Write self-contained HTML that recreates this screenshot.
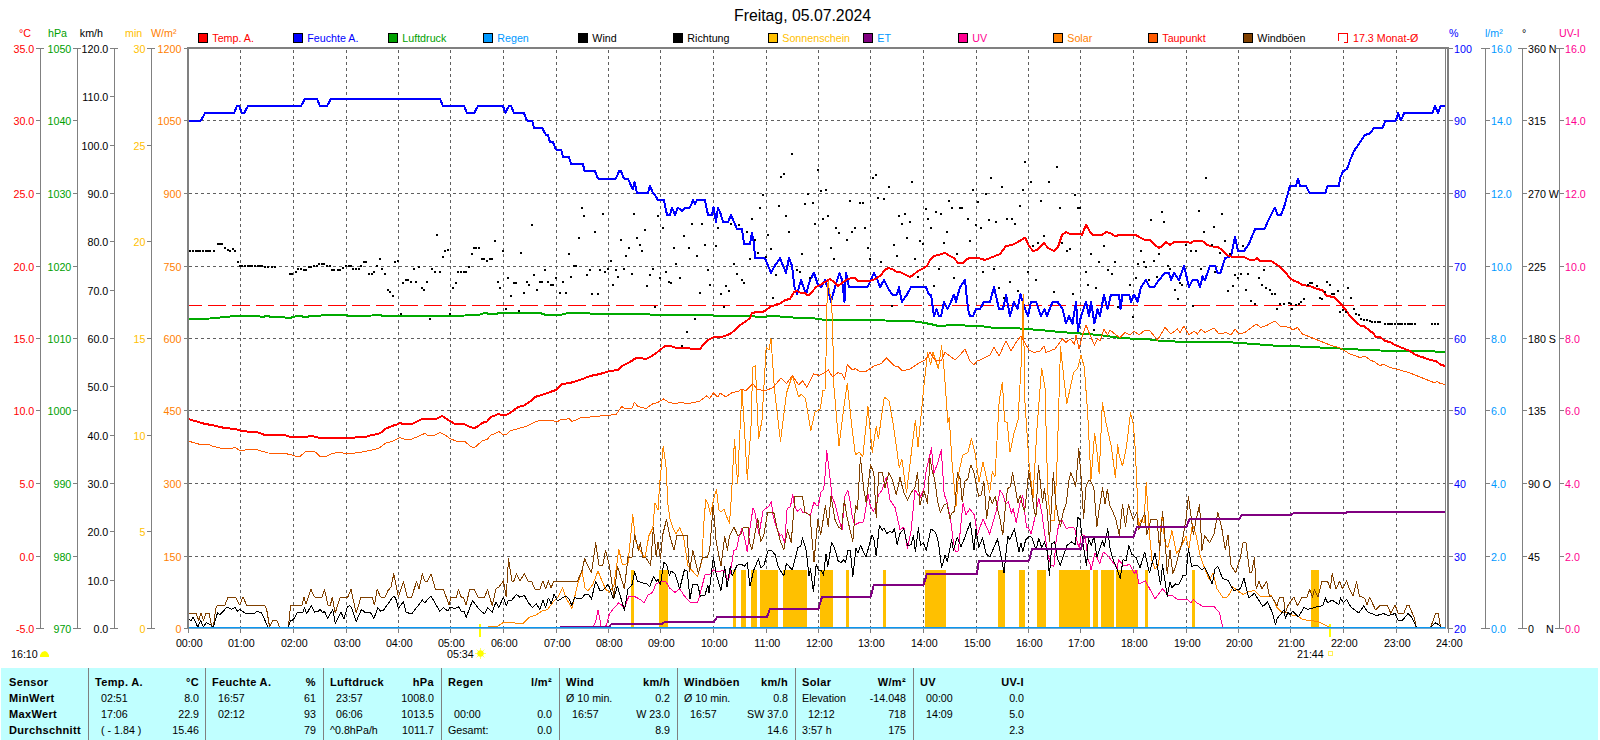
<!DOCTYPE html>
<html><head><meta charset="utf-8"><title>Freitag, 05.07.2024</title>
<style>
html,body{margin:0;padding:0;background:#fff;}
body{width:1600px;height:740px;overflow:hidden;position:relative;}
svg{position:absolute;left:0;top:0;display:block;}
text{font-family:"Liberation Sans",sans-serif;font-size:10.7px;}
.b{font-weight:bold;font-size:11px;letter-spacing:0.35px;}
.t{font-size:15.8px;}
.e{text-anchor:end;}
.m{text-anchor:middle;}
</style></head><body>
<svg width="1600" height="740" viewBox="0 0 1600 740" shape-rendering="crispEdges">
<rect x="0" y="0" width="1600" height="740" fill="#ffffff"/>
<g stroke="#606060" stroke-width="1" stroke-dasharray="3,3">
<line x1="240.5" y1="50" x2="240.5" y2="627"/>
<line x1="293.5" y1="50" x2="293.5" y2="627"/>
<line x1="346.5" y1="50" x2="346.5" y2="627"/>
<line x1="398.5" y1="50" x2="398.5" y2="627"/>
<line x1="450.5" y1="50" x2="450.5" y2="627"/>
<line x1="503.5" y1="50" x2="503.5" y2="627"/>
<line x1="556.5" y1="50" x2="556.5" y2="627"/>
<line x1="608.5" y1="50" x2="608.5" y2="627"/>
<line x1="660.5" y1="50" x2="660.5" y2="627"/>
<line x1="713.5" y1="50" x2="713.5" y2="627"/>
<line x1="766.5" y1="50" x2="766.5" y2="627"/>
<line x1="818.5" y1="50" x2="818.5" y2="627"/>
<line x1="870.5" y1="50" x2="870.5" y2="627"/>
<line x1="923.5" y1="50" x2="923.5" y2="627"/>
<line x1="976.5" y1="50" x2="976.5" y2="627"/>
<line x1="1028.5" y1="50" x2="1028.5" y2="627"/>
<line x1="1080.5" y1="50" x2="1080.5" y2="627"/>
<line x1="1133.5" y1="50" x2="1133.5" y2="627"/>
<line x1="1186.5" y1="50" x2="1186.5" y2="627"/>
<line x1="1238.5" y1="50" x2="1238.5" y2="627"/>
<line x1="1290.5" y1="50" x2="1290.5" y2="627"/>
<line x1="1343.5" y1="50" x2="1343.5" y2="627"/>
<line x1="1396.5" y1="50" x2="1396.5" y2="627"/>
<line x1="189" y1="120.5" x2="1445" y2="120.5"/>
<line x1="189" y1="193.5" x2="1445" y2="193.5"/>
<line x1="189" y1="266.5" x2="1445" y2="266.5"/>
<line x1="189" y1="338.5" x2="1445" y2="338.5"/>
<line x1="189" y1="410.5" x2="1445" y2="410.5"/>
<line x1="189" y1="483.5" x2="1445" y2="483.5"/>
<line x1="189" y1="556.5" x2="1445" y2="556.5"/>
</g>
<rect x="631.0" y="570" width="3.0" height="58" fill="#ffc000"/>
<rect x="659.0" y="570" width="8.5" height="58" fill="#ffc000"/>
<rect x="733.0" y="570" width="3.0" height="58" fill="#ffc000"/>
<rect x="741.0" y="570" width="4.5" height="58" fill="#ffc000"/>
<rect x="751.0" y="570" width="6.0" height="58" fill="#ffc000"/>
<rect x="759.5" y="570" width="18.5" height="58" fill="#ffc000"/>
<rect x="783.0" y="570" width="24.0" height="58" fill="#ffc000"/>
<rect x="820.0" y="570" width="13.0" height="58" fill="#ffc000"/>
<rect x="846.0" y="570" width="3.0" height="58" fill="#ffc000"/>
<rect x="883.0" y="570" width="3.0" height="58" fill="#ffc000"/>
<rect x="925.0" y="570" width="21.0" height="58" fill="#ffc000"/>
<rect x="998.0" y="570" width="6.5" height="58" fill="#ffc000"/>
<rect x="1019.0" y="570" width="6.0" height="58" fill="#ffc000"/>
<rect x="1037.0" y="570" width="9.0" height="58" fill="#ffc000"/>
<rect x="1059.0" y="570" width="31.0" height="58" fill="#ffc000"/>
<rect x="1093.0" y="570" width="5.0" height="58" fill="#ffc000"/>
<rect x="1101.0" y="570" width="13.0" height="58" fill="#ffc000"/>
<rect x="1116.0" y="570" width="22.0" height="58" fill="#ffc000"/>
<rect x="1145.0" y="570" width="3.0" height="58" fill="#ffc000"/>
<rect x="1192.0" y="570" width="3.0" height="58" fill="#ffc000"/>
<rect x="1311.0" y="570" width="8.0" height="58" fill="#ffc000"/>
<line x1="189" y1="305.5" x2="1445" y2="305.5" stroke="#ff0000" stroke-width="1" stroke-dasharray="18,6" stroke-dashoffset="5"/>
<polyline points="188.0,319.0 210.0,318.5 215.0,318.0 235.0,316.0 258.0,316.0 262.0,317.0 267.0,316.0 272.0,317.0 285.0,317.5 290.0,318.0 295.0,316.5 300.0,316.0 305.0,317.0 312.0,316.0 330.0,315.0 345.0,315.0 350.0,316.0 372.0,315.5 378.0,314.5 383.0,316.0 400.0,316.0 440.0,316.0 465.0,315.5 470.0,314.5 480.0,314.5 485.0,313.0 490.0,314.0 495.0,314.0 500.0,313.0 540.0,313.0 546.0,315.0 560.0,315.0 566.0,313.5 580.0,313.0 600.0,314.0 607.0,314.5 630.0,314.0 640.0,314.0 660.0,315.0 690.0,315.0 700.0,314.5 720.0,316.0 750.0,316.0 760.0,317.0 775.0,316.0 785.0,317.0 800.0,318.0 815.0,318.5 825.0,320.0 860.0,320.5 870.0,320.0 885.0,320.5 905.0,321.0 915.0,321.5 925.0,323.0 935.0,325.0 938.0,326.0 955.0,325.0 960.0,324.5 968.0,326.0 980.0,326.0 995.0,328.0 1020.0,328.5 1040.0,330.0 1060.0,332.0 1080.0,333.5 1100.0,335.0 1120.0,338.0 1140.0,339.0 1150.0,339.5 1162.0,341.0 1175.0,341.5 1180.0,342.5 1190.0,341.5 1220.0,341.5 1240.0,343.0 1260.0,344.5 1280.0,346.0 1300.0,346.5 1320.0,347.5 1340.0,348.5 1350.0,349.0 1365.0,350.0 1380.0,350.5 1400.0,351.0 1420.0,351.0 1435.0,351.5 1446.0,352.0" fill="none" stroke="#00aa00" stroke-width="2" stroke-linejoin="round" />
<polyline points="188.0,120.5 201.0,120.5 205.0,113.2 234.0,113.2 237.0,106.0 239.0,106.0 242.0,113.2 244.0,113.2 248.0,106.0 301.0,106.0 305.0,98.8 317.0,98.8 320.0,106.0 327.0,106.0 331.0,98.8 440.0,98.8 443.0,106.0 464.0,106.0 467.0,113.2 474.0,113.2 478.0,106.0 503.0,106.0 505.5,113.2 507.0,109.6 509.0,106.0 511.0,106.0 514.0,113.2 524.0,113.2 527.0,120.5 532.0,120.5 534.0,127.8 542.0,127.8 546.0,135.0 548.0,135.0 550.0,142.2 553.0,142.2 556.0,149.5 561.0,149.5 563.0,156.8 569.0,156.8 571.0,164.0 583.0,164.0 584.5,171.2 595.0,171.2 598.0,178.5 616.0,178.5 619.0,171.2 621.0,171.2 624.0,178.5 628.0,178.5 631.0,185.8 633.0,189.4 634.5,182.1 637.0,193.0 648.0,193.0 650.0,185.8 653.0,193.0 656.0,196.6 658.0,200.2 664.0,200.2 667.0,214.8 670.0,214.8 672.0,207.5 675.0,214.8 678.0,207.5 682.0,211.1 685.0,207.5 690.0,207.5 693.0,200.2 695.0,203.9 697.0,200.2 705.0,200.2 708.0,214.8 712.0,214.8 713.5,207.5 716.0,222.0 718.0,207.5 721.0,214.8 723.0,222.0 728.0,222.0 731.0,214.8 734.0,222.0 737.0,229.2 742.0,229.2 744.0,243.8 750.0,243.8 752.0,232.9 754.0,243.8 755.0,258.2 765.0,258.2 771.0,272.8 775.0,265.5 780.0,258.2 783.0,265.5 786.0,272.8 789.0,258.2 792.0,265.5 794.5,287.2 797.0,294.5 801.0,280.0 806.0,294.5 810.0,280.0 814.0,272.8 817.5,283.6 821.0,287.2 825.0,280.0 827.5,287.2 831.0,301.8 835.0,287.2 839.5,272.8 842.0,280.0 844.5,301.8 846.0,272.8 849.0,287.2 867.5,287.2 874.0,272.8 877.5,280.0 880.0,287.2 884.0,280.0 887.5,287.2 892.0,294.5 897.0,294.5 899.0,287.2 902.0,301.8 907.0,294.5 911.0,287.2 926.0,287.2 929.0,294.5 931.0,294.5 934.0,316.2 936.5,309.0 939.0,316.2 941.0,316.2 944.0,301.8 947.5,309.0 951.0,301.8 954.0,294.5 956.0,301.8 960.0,287.2 965.0,280.0 968.0,309.0 970.0,316.2 973.0,316.2 976.0,309.0 980.0,309.0 984.0,301.8 990.0,301.8 994.0,287.2 999.0,309.0 1003.0,309.0 1006.0,294.5 1010.0,316.2 1014.0,301.8 1017.5,309.0 1020.5,294.5 1025.0,309.0 1028.0,316.2 1031.0,301.8 1036.0,301.8 1041.0,316.2 1044.5,309.0 1047.0,316.2 1052.5,301.8 1057.5,301.8 1062.5,309.0 1066.0,323.5 1069.0,316.2 1072.5,323.5 1076.0,301.8 1078.0,330.8 1081.0,316.2 1086.0,301.8 1089.0,316.2 1091.0,301.8 1094.5,323.5 1097.5,309.0 1100.0,316.2 1104.0,294.5 1107.5,309.0 1111.0,294.5 1115.0,294.5 1119.0,294.5 1120.5,309.0 1122.5,294.5 1129.0,294.5 1131.0,301.8 1134.0,294.5 1137.5,301.8 1141.0,287.2 1146.0,280.0 1149.5,287.2 1154.0,287.2 1159.0,280.0 1165.0,272.8 1169.0,272.8 1171.0,280.0 1174.0,272.8 1179.0,280.0 1184.0,265.5 1189.0,287.2 1192.5,280.0 1197.5,280.0 1200.0,287.2 1202.5,276.4 1205.0,280.0 1210.0,265.5 1215.0,265.5 1217.5,272.8 1220.5,272.8 1225.0,258.2 1231.0,256.1 1235.0,236.5 1238.0,251.0 1244.0,251.0 1249.0,243.8 1255.0,229.2 1264.5,229.2 1267.5,222.0 1271.0,214.8 1275.0,207.5 1277.5,214.8 1281.0,214.8 1284.0,207.5 1286.0,200.2 1290.0,185.8 1296.0,185.8 1298.0,178.5 1300.0,185.8 1306.0,185.8 1309.5,193.0 1325.5,193.0 1327.5,185.8 1339.0,185.8 1340.0,178.5 1343.0,171.2 1347.0,169.1 1350.0,160.4 1354.0,151.0 1360.0,142.2 1365.0,135.0 1370.0,133.5 1374.0,127.8 1382.5,127.8 1385.5,120.5 1396.0,120.5 1398.0,113.2 1401.0,120.5 1404.0,113.2 1432.5,113.2 1435.0,106.0 1438.0,113.2 1440.5,106.0 1446.0,106.0" fill="none" stroke="#0000ff" stroke-width="2" stroke-linejoin="round" />
<polyline points="488.0,627.0 497.0,626.5 503.4,622.5 514.0,622.5 517.5,624.0 523.0,623.5 529.7,617.0 536.0,615.0 542.0,611.0 547.5,609.5 554.0,601.0 558.0,597.0 562.5,587.8 566.0,598.0 572.0,608.4 577.5,585.0 582.0,571.0 585.0,588.0 588.0,590.6 592.5,585.0 598.0,571.0 602.0,581.0 605.6,589.0 609.4,592.5 614.0,585.0 618.8,549.4 622.5,565.0 628.0,563.4 632.8,514.7 635.6,541.0 639.4,549.4 645.0,558.0 648.8,536.0 652.8,528.0 655.0,503.0 658.0,510.0 659.5,486.0 663.2,446.5 666.2,468.0 667.8,504.0 670.0,519.0 673.0,528.0 676.0,534.0 679.7,527.8 683.4,536.0 688.0,566.0 697.5,576.6 702.0,560.6 703.5,528.0 705.7,499.5 708.2,504.0 710.5,514.5 713.5,499.5 716.5,489.3 718.8,510.0 721.0,512.0 724.0,509.2 727.0,517.5 729.5,523.5 731.5,495.0 733.0,465.0 734.6,439.0 736.0,463.5 737.8,483.5 739.0,450.0 742.0,389.7 744.5,430.0 747.3,479.5 751.0,426.8 752.7,367.3 755.4,366.0 758.6,439.0 762.0,420.0 766.2,347.0 769.0,349.7 771.0,338.4 774.3,387.6 780.5,441.6 786.5,393.0 792.4,375.4 796.0,387.6 798.6,397.0 801.4,394.3 805.4,398.4 810.8,430.8 814.9,412.0 820.3,409.0 823.0,390.0 825.0,390.0 826.5,340.0 827.2,290.0 828.2,281.0 829.5,292.0 831.5,300.0 832.7,330.0 833.8,385.0 839.0,445.7 843.2,412.0 847.3,383.5 851.4,422.7 855.4,455.0 859.0,452.0 862.8,456.8 868.0,406.5 872.2,452.4 876.2,426.8 878.4,439.0 884.3,397.0 889.2,401.0 893.8,428.0 899.2,467.3 901.9,459.2 906.5,493.0 911.4,452.4 915.4,420.0 918.0,447.0 923.5,390.3 927.6,352.4 930.8,364.6 933.0,352.4 938.4,368.6 941.6,345.7 944.3,371.4 947.8,422.7 949.2,417.3 951.9,460.5 956.0,506.5 958.6,474.0 962.7,455.0 968.0,452.4 971.4,439.0 974.9,452.4 979.0,482.0 983.0,462.0 989.7,493.0 992.4,471.4 995.0,476.8 999.2,401.0 1002.4,382.0 1004.6,421.4 1007.3,422.7 1010.0,452.4 1014.0,433.5 1018.0,420.0 1021.4,360.0 1023.2,294.0 1024.9,401.0 1029.0,463.0 1033.0,498.0 1037.0,428.0 1041.6,368.0 1045.0,387.6 1047.8,493.0 1050.5,520.0 1054.6,520.0 1057.3,455.0 1060.5,347.0 1064.0,379.5 1066.8,403.8 1073.5,372.7 1077.6,368.6 1081.0,355.0 1084.3,367.3 1087.6,412.0 1091.0,479.5 1094.6,433.5 1096.5,447.0 1099.2,474.0 1102.4,402.4 1106.0,422.7 1111.4,447.0 1115.4,478.0 1117.6,444.8 1119.3,456.0 1122.5,466.0 1126.4,447.5 1130.5,413.0 1133.4,424.6 1135.0,445.7 1136.9,484.4 1138.4,530.0 1139.5,523.0 1141.3,519.5 1144.0,523.0 1146.2,482.6 1148.3,516.0 1150.0,540.0 1152.0,560.6 1155.0,569.0 1158.8,564.4 1160.5,530.0 1162.5,512.5 1163.5,530.0 1165.3,544.7 1168.0,547.5 1172.0,530.6 1176.6,554.0 1182.2,544.7 1186.0,536.0 1188.8,549.4 1192.5,524.0 1196.2,536.0 1200.0,555.0 1203.8,566.0 1209.4,580.0 1213.0,573.0 1217.0,588.8 1222.5,597.0 1226.2,598.0 1230.0,593.4 1232.8,586.9 1237.5,590.6 1243.0,594.4 1248.8,591.6 1254.4,590.6 1260.0,596.0 1267.5,597.0 1271.2,595.3 1277.0,607.5 1282.5,613.0 1286.2,612.0 1292.0,615.0 1297.5,616.0 1303.0,619.7 1310.6,620.6 1318.0,621.6 1323.8,624.4 1329.4,627.0" fill="none" stroke="#ff8800" stroke-width="1" stroke-linejoin="round" />
<polyline points="188.0,441.0 195.0,443.0 202.0,445.0 208.0,444.0 212.0,446.0 220.0,448.0 230.0,449.0 235.0,447.5 241.0,451.0 247.0,449.5 258.0,450.0 268.0,453.0 285.0,453.5 290.0,454.5 295.0,456.0 300.0,456.5 305.0,452.0 312.0,451.0 316.0,452.5 320.0,456.5 327.0,456.0 332.0,453.5 340.0,452.0 345.0,453.5 355.0,453.0 365.0,451.5 372.0,450.0 378.0,448.5 382.0,446.0 386.0,443.0 392.0,441.5 397.0,439.0 400.0,437.5 404.0,439.0 412.0,439.0 418.0,436.5 422.0,434.5 425.0,433.5 428.0,435.5 435.0,435.0 440.0,432.5 445.0,435.0 450.0,438.5 456.0,441.0 465.0,441.5 470.0,446.0 474.0,448.0 477.0,445.5 482.0,441.0 487.0,439.5 491.0,435.0 495.0,433.5 499.0,431.5 502.0,434.0 506.0,435.0 510.0,431.0 515.0,429.5 520.0,428.0 526.0,426.5 530.0,424.5 535.0,422.0 540.0,420.5 545.0,421.0 553.0,420.5 557.0,422.0 560.0,420.0 565.0,419.5 569.0,418.5 572.0,421.5 577.0,419.5 580.0,418.0 590.0,417.0 600.0,416.0 616.0,414.6 621.6,406.5 625.7,409.0 632.4,408.0 634.3,402.4 638.0,406.5 646.0,408.6 652.7,403.8 658.0,402.4 663.5,399.0 669.0,402.4 675.7,403.8 681.0,402.0 686.5,403.8 694.6,402.4 700.0,401.0 706.8,395.7 709.5,398.4 713.5,393.0 717.6,397.0 720.3,393.0 725.7,397.0 732.4,392.4 737.8,391.6 742.0,389.0 746.0,390.8 752.7,383.5 756.8,389.0 765.0,390.8 773.0,387.6 781.0,378.0 786.5,383.5 792.4,375.4 798.6,385.0 802.7,380.8 806.8,387.6 813.5,374.0 819.0,375.4 824.3,372.7 828.4,370.0 832.4,376.8 837.8,372.7 842.0,374.0 844.6,379.5 847.3,364.6 852.7,370.0 855.4,368.6 860.8,372.0 866.0,371.4 870.0,368.6 874.3,366.0 881.0,363.8 886.5,358.0 890.5,362.0 894.6,366.0 897.5,366.0 902.5,371.0 910.0,369.0 917.5,364.0 925.0,360.0 930.0,352.5 935.0,360.0 941.0,361.0 945.0,352.5 950.0,356.0 955.0,360.0 960.0,355.0 965.0,349.0 970.0,361.0 974.0,365.0 977.5,360.0 980.0,360.0 990.0,355.0 994.0,347.5 999.0,356.0 1006.0,341.0 1011.0,351.0 1016.0,342.5 1021.0,336.0 1029.0,350.0 1034.0,352.5 1040.0,351.0 1044.0,346.0 1046.0,352.5 1055.0,349.0 1062.5,339.0 1066.0,342.5 1070.0,339.0 1074.5,344.0 1076.0,335.0 1079.0,349.0 1082.5,335.0 1086.0,325.0 1090.0,335.0 1094.5,345.0 1097.5,339.0 1100.0,341.0 1104.0,329.0 1107.5,335.0 1110.0,330.0 1116.0,335.0 1120.0,337.5 1125.0,332.5 1130.0,335.0 1134.0,331.0 1139.0,335.0 1145.0,330.0 1150.0,331.0 1157.5,340.0 1165.0,327.5 1171.0,334.0 1177.5,329.0 1180.0,332.5 1184.0,326.0 1189.0,335.0 1194.0,331.0 1197.5,334.0 1201.0,329.0 1205.0,332.5 1214.0,328.0 1219.0,334.0 1226.0,332.5 1231.0,335.0 1235.0,329.0 1239.0,334.0 1245.0,332.5 1256.0,324.0 1261.0,327.5 1267.5,325.0 1275.0,321.0 1280.0,326.0 1290.0,327.5 1292.5,330.0 1297.5,327.5 1302.5,334.0 1310.0,337.0 1320.0,341.0 1330.0,345.0 1340.0,348.0 1345.0,351.0 1350.0,354.0 1360.0,357.5 1365.0,356.0 1370.0,360.0 1375.0,362.0 1380.0,366.0 1383.0,364.0 1390.0,367.5 1400.0,370.0 1410.0,373.0 1420.0,377.0 1430.0,381.0 1435.0,383.0 1437.0,381.0 1440.0,383.5 1446.0,384.5" fill="none" stroke="#ff5a00" stroke-width="1" stroke-linejoin="round" />
<polyline points="593.4,627.0 596.0,620.0 598.0,610.0 600.0,620.0 601.0,626.6 604.0,627.0 606.5,625.3 609.4,614.0 613.0,609.0 618.8,602.8 624.4,607.5 629.0,596.0 633.8,596.0 641.0,600.0 644.0,602.8 647.8,595.3 652.5,592.5 656.0,584.0 660.0,582.0 665.6,581.0 669.4,587.8 675.0,592.5 679.7,588.8 684.4,596.0 690.0,602.0 697.5,602.8 700.0,594.4 705.0,574.7 709.7,574.7 713.4,570.0 718.0,572.0 723.8,570.0 728.4,581.0 730.8,570.0 733.6,551.0 736.5,549.1 739.3,535.9 742.1,528.3 745.0,539.7 747.2,552.0 749.7,530.2 752.9,508.5 754.8,511.3 756.3,520.8 759.1,534.0 762.9,511.3 765.8,508.5 768.6,506.6 771.4,501.9 773.3,517.0 776.2,526.5 780.0,535.9 781.8,534.0 784.7,543.5 787.1,508.5 790.4,506.6 792.8,494.3 794.1,503.8 797.0,511.3 800.0,509.4 800.5,508.5 802.8,512.2 806.5,512.2 810.2,516.0 814.0,501.8 816.2,505.5 818.5,505.5 820.8,492.0 823.3,489.8 824.5,483.0 826.8,450.8 829.3,471.0 832.0,496.5 835.0,504.0 838.0,516.0 842.0,530.0 844.8,496.5 847.8,490.5 850.0,501.0 852.2,516.0 854.5,525.0 859.0,522.8 863.5,522.0 865.8,508.5 868.0,494.2 870.2,505.5 873.2,511.5 876.2,506.2 878.5,495.0 882.0,490.0 886.2,477.5 890.0,500.0 895.0,507.5 900.0,529.7 903.8,527.0 907.5,548.4 911.2,530.0 915.0,490.0 920.0,497.5 923.8,490.0 926.2,470.0 930.0,454.6 931.5,448.0 933.8,473.5 937.6,463.1 941.3,449.9 944.2,494.3 947.0,501.9 950.8,520.8 953.6,543.5 955.5,552.0 958.4,551.0 961.2,520.8 963.1,502.8 965.9,515.1 969.7,508.5 974.4,515.1 977.3,535.0 983.0,518.9 989.6,534.0 996.2,511.3 1000.0,490.5 1002.8,494.3 1005.7,503.8 1008.5,501.9 1011.3,513.2 1013.2,508.5 1016.1,522.7 1019.8,503.8 1022.7,495.2 1024.6,511.3 1026.5,527.4 1028.3,527.4 1031.2,534.0 1035.9,513.2 1038.7,498.1 1041.6,511.3 1044.4,532.1 1048.2,555.8 1051.0,565.2 1053.9,566.2 1055.8,543.5 1058.6,524.6 1061.4,518.9 1063.3,522.7 1066.2,528.3 1071.8,527.4 1074.7,528.3 1077.5,543.5 1079.4,547.3 1081.3,534.0 1085.1,535.9 1087.9,558.6 1090.0,564.3 1091.0,570.0 1095.0,553.0 1099.7,563.4 1103.4,552.0 1108.0,556.0 1117.5,568.0 1118.4,559.7 1124.0,566.0 1129.7,564.4 1134.4,573.8 1136.2,570.0 1139.0,584.0 1145.6,581.0 1155.0,599.0 1162.5,588.8 1168.0,595.3 1172.0,595.3 1176.6,599.0 1187.8,599.6 1190.6,602.8 1193.4,599.6 1197.0,602.8 1202.8,606.5 1214.0,606.5 1219.7,613.0 1221.6,622.5 1223.0,627.0" fill="none" stroke="#ff0090" stroke-width="1" stroke-linejoin="round" />
<polyline points="188.0,613.0 196.0,613.0 198.8,620.6 201.0,613.0 203.4,620.6 206.2,613.0 209.0,613.0 211.9,627.0 213.4,627.0 215.6,609.0 217.5,605.0 225.0,605.0 228.0,597.0 235.3,597.0 239.6,605.0 243.0,597.0 246.5,605.0 264.4,605.0 266.6,609.0 269.6,627.0 272.8,620.6 277.0,620.6 279.4,627.0 288.4,627.0 290.6,605.0 302.0,605.0 304.0,597.0 306.0,604.0 311.0,589.5 314.6,597.0 322.0,597.0 324.4,589.5 328.0,605.0 330.5,605.0 332.2,597.0 335.2,613.0 340.3,597.0 347.8,597.0 351.0,589.5 356.2,613.0 361.0,597.0 372.0,597.0 374.4,605.0 377.2,589.5 380.6,597.0 385.3,597.0 388.0,590.6 391.0,587.0 393.8,573.8 398.4,597.0 403.5,581.6 407.2,597.0 411.6,597.0 416.6,581.6 419.0,588.8 422.4,573.8 424.7,581.0 427.5,581.0 431.0,573.8 435.4,589.0 443.4,589.0 449.0,605.0 451.0,597.0 456.5,597.0 458.4,589.5 461.2,597.0 463.5,597.0 466.0,605.0 469.7,589.5 474.4,589.5 478.0,597.0 480.0,597.0 484.7,597.0 487.5,589.5 492.2,605.6 496.0,588.8 498.8,587.0 503.4,581.0 506.2,597.0 508.5,558.8 511.9,581.0 513.8,581.0 516.5,573.8 519.8,581.0 524.4,573.8 527.8,581.0 531.5,581.0 534.8,589.0 540.0,589.0 542.8,581.0 545.6,588.8 548.4,581.0 551.0,587.8 554.0,581.0 577.5,581.0 582.2,570.0 584.6,558.8 591.5,572.8 595.7,542.8 599.0,565.3 602.8,565.3 605.6,550.3 609.4,566.0 614.0,598.0 617.4,566.0 624.4,588.8 628.0,557.0 631.9,557.8 634.7,534.4 638.4,550.3 640.3,542.8 643.0,557.8 646.0,557.8 650.6,565.3 653.4,527.0 656.2,557.0 658.0,542.0 660.4,558.8 662.8,534.4 666.5,519.4 669.4,534.4 674.0,550.3 677.0,535.3 687.2,535.3 689.6,572.0 692.8,550.3 698.4,573.8 702.2,557.8 707.0,557.8 709.7,550.3 713.2,505.0 716.2,542.0 721.0,566.0 724.7,536.2 727.5,550.3 729.4,536.2 733.8,527.0 737.8,535.3 741.0,534.4 743.4,527.0 748.0,527.0 749.5,542.8 752.0,549.4 757.8,518.5 760.7,542.0 764.0,534.4 767.5,512.5 773.8,512.5 777.5,530.0 780.0,540.0 783.8,550.0 787.5,530.0 791.2,542.5 795.0,496.2 802.5,496.2 805.0,512.5 810.0,515.0 814.0,562.0 817.8,519.0 820.7,535.0 825.4,505.6 828.2,526.5 831.0,496.0 834.8,519.0 838.6,527.4 841.5,529.0 844.3,500.0 847.0,517.0 852.8,541.6 855.6,505.6 857.5,509.4 860.4,457.4 863.8,490.0 866.2,502.5 870.5,465.0 873.8,472.5 876.2,517.5 878.8,472.5 882.5,472.5 885.0,487.5 888.8,472.5 892.5,480.0 896.2,495.0 900.0,477.5 903.8,492.5 907.5,500.0 911.2,492.5 915.0,487.5 917.5,472.5 920.0,505.0 923.8,490.0 927.5,503.8 930.0,458.4 931.9,469.7 934.7,479.2 937.6,501.9 940.4,512.3 944.2,504.7 947.0,503.8 949.9,518.9 951.7,513.2 954.6,511.3 957.4,472.6 960.3,479.2 962.2,501.9 965.0,481.1 967.8,479.2 970.7,465.0 973.5,470.7 976.3,484.8 978.8,496.2 981.1,495.2 983.9,481.1 986.7,518.9 989.6,496.2 992.4,503.8 995.2,496.2 998.1,511.3 1000.0,518.9 1002.8,535.0 1005.7,503.8 1007.5,488.6 1010.4,486.7 1012.6,472.6 1015.1,486.7 1017.9,502.8 1020.4,495.2 1022.7,505.7 1024.6,511.3 1026.5,494.3 1028.7,470.7 1031.2,488.6 1034.0,509.4 1035.9,517.0 1038.4,465.0 1040.6,484.8 1042.5,502.8 1044.4,488.6 1047.3,511.3 1049.5,541.6 1052.0,496.2 1053.3,472.6 1055.8,503.8 1058.6,518.9 1060.5,526.5 1063.3,511.3 1066.2,503.8 1069.0,480.1 1070.9,472.6 1073.7,480.1 1075.6,486.7 1078.8,448.9 1081.3,479.2 1083.6,518.9 1086.0,486.7 1088.9,480.1 1090.0,480.1 1093.8,487.6 1096.9,526.9 1099.0,510.0 1102.6,488.0 1105.0,504.0 1107.4,489.0 1109.7,505.5 1113.2,512.5 1115.8,519.5 1119.4,535.3 1122.5,504.6 1125.5,526.5 1128.5,504.6 1130.8,512.5 1133.4,519.5 1136.9,512.5 1138.5,530.0 1142.2,519.5 1144.8,512.5 1146.6,535.0 1151.0,519.5 1157.0,519.5 1159.7,550.3 1162.5,512.0 1165.3,541.9 1167.2,573.8 1170.0,550.3 1172.8,573.8 1175.6,566.2 1177.5,558.8 1182.2,541.9 1186.0,519.5 1188.4,496.3 1190.5,512.5 1193.4,534.4 1196.2,519.4 1199.6,504.6 1201.9,550.3 1204.7,535.3 1209.4,542.8 1214.0,534.4 1217.8,512.5 1221.6,527.0 1225.3,549.4 1228.0,535.3 1231.0,565.3 1235.6,572.8 1240.3,557.8 1243.0,542.8 1246.0,542.8 1249.7,572.8 1251.6,572.8 1254.4,557.8 1256.2,588.8 1259.0,581.2 1261.9,588.8 1266.6,581.2 1269.4,596.2 1271.6,596.2 1277.0,605.6 1279.7,597.0 1283.4,597.0 1285.3,613.0 1288.0,605.6 1293.8,597.0 1297.5,605.6 1302.2,597.0 1307.0,597.0 1309.7,589.7 1312.5,597.0 1314.4,589.7 1318.0,597.0 1322.0,581.2 1327.5,581.2 1330.3,588.8 1332.2,573.8 1336.0,588.8 1339.7,581.2 1342.5,588.8 1346.5,581.0 1349.5,589.0 1353.0,596.0 1356.6,581.7 1359.4,596.0 1364.8,598.3 1367.0,604.8 1369.6,597.2 1375.6,610.0 1380.0,605.5 1387.5,605.5 1390.8,613.5 1395.0,604.8 1398.3,613.5 1403.7,613.5 1407.0,605.5 1409.1,605.5 1412.4,613.5 1414.5,617.8 1416.0,627.0 1430.8,627.0 1435.7,613.0 1438.3,613.0 1440.5,627.0" fill="none" stroke="#804000" stroke-width="1" stroke-linejoin="round" />
<polyline points="188.4,618.8 191.0,620.6 193.0,617.2 197.8,627.0 200.6,620.6 203.4,627.0 206.2,622.5 210.0,624.4 213.4,627.0 217.5,612.8 219.8,615.0 227.0,607.0 231.6,609.4 235.3,607.5 237.2,611.2 239.6,609.4 246.6,614.0 249.4,613.0 255.0,613.0 257.2,611.2 261.6,613.0 268.0,627.0 288.4,627.0 290.6,620.6 293.4,619.7 297.2,613.0 302.8,612.2 304.7,607.5 306.6,614.0 311.2,605.6 314.6,612.2 318.4,611.2 320.2,609.4 322.5,612.8 324.4,611.2 327.6,618.4 332.8,609.4 335.2,623.4 340.9,612.2 344.0,618.8 347.4,606.6 349.7,605.6 351.6,607.5 356.2,621.5 361.5,609.4 365.6,612.8 370.3,612.2 374.0,618.4 377.8,607.5 380.6,611.2 383.4,610.3 393.4,596.2 395.6,598.0 398.4,608.4 403.5,601.5 406.0,612.2 411.6,614.0 422.4,600.0 424.7,602.8 431.0,596.0 439.7,611.2 443.4,607.5 448.0,611.2 450.0,607.5 455.6,608.4 458.4,606.6 461.2,611.2 464.0,611.2 466.3,617.2 472.5,600.5 480.0,610.3 484.7,614.0 487.5,607.5 492.2,612.2 496.0,601.9 498.8,607.5 503.4,597.2 506.2,605.6 508.5,600.0 511.9,600.0 516.5,594.4 519.8,597.2 524.4,595.3 527.8,601.9 532.5,607.5 536.2,603.8 540.0,609.4 542.8,600.0 545.6,607.5 548.4,598.0 551.2,603.8 554.0,594.4 557.8,601.0 563.4,597.2 566.2,596.2 569.0,599.0 571.9,605.6 574.7,597.2 577.5,599.0 582.2,598.0 585.0,594.4 588.8,594.4 591.5,599.0 595.7,581.2 600.0,590.6 602.8,590.6 607.5,585.0 609.4,586.9 613.5,599.0 617.4,586.0 624.4,610.3 628.0,588.8 631.9,585.0 634.7,571.9 637.5,581.2 643.0,583.0 646.0,583.0 649.7,586.9 653.4,576.6 656.2,581.2 658.0,579.4 660.4,585.0 663.8,562.5 666.5,564.4 669.4,575.6 671.2,571.0 675.0,573.8 679.7,588.8 684.4,570.0 687.2,571.0 690.0,599.0 692.8,584.0 697.5,584.0 700.3,596.2 705.0,595.3 707.8,585.0 709.0,593.4 713.4,557.0 716.2,573.8 721.0,590.6 724.7,566.2 727.0,586.9 730.3,566.2 732.2,575.6 737.0,565.3 741.5,564.4 744.4,566.2 747.2,562.5 750.0,586.0 753.8,570.0 758.4,558.8 760.7,568.0 764.0,565.3 767.8,551.0 771.5,550.3 775.3,555.0 778.0,566.2 780.0,570.0 783.8,575.6 786.5,563.4 792.2,570.0 797.8,547.5 800.6,546.5 802.5,538.0 806.2,550.3 809.0,575.6 810.5,569.0 813.4,591.6 816.2,564.4 818.4,570.0 821.2,570.0 823.5,575.6 826.0,554.0 827.8,566.2 831.6,542.8 834.4,547.5 838.0,560.6 841.0,562.5 843.8,559.7 845.6,562.5 847.9,550.3 850.3,550.3 852.8,576.6 856.0,548.4 857.8,553.0 860.6,545.6 866.0,556.9 871.9,535.3 873.8,538.0 876.2,556.0 879.4,525.0 882.2,530.6 884.0,527.8 886.9,533.4 889.7,531.6 892.5,532.5 894.4,528.8 897.2,544.7 900.0,533.4 903.8,528.8 907.5,545.6 911.2,544.7 913.5,535.3 915.4,552.0 918.4,527.8 920.6,545.6 923.4,542.8 926.2,550.3 931.0,528.8 935.6,532.5 938.4,541.9 941.6,568.0 945.0,555.0 947.4,561.6 951.6,540.0 953.4,550.3 957.2,537.2 961.0,546.6 964.7,538.0 970.3,522.0 974.0,550.3 976.0,528.8 978.8,547.5 982.5,538.0 986.2,554.0 990.0,556.9 993.8,547.5 997.5,539.0 1001.2,556.9 1004.0,572.8 1007.8,536.2 1009.7,540.0 1014.4,528.8 1019.0,552.0 1021.0,542.8 1022.8,552.0 1025.6,540.0 1029.4,536.2 1032.2,538.0 1036.0,550.3 1038.8,538.0 1041.6,547.5 1044.4,541.9 1047.2,551.2 1049.4,575.6 1051.9,543.8 1054.7,541.9 1057.5,558.8 1060.3,565.3 1066.9,545.6 1071.6,541.9 1075.3,544.7 1078.0,517.5 1080.0,519.4 1082.8,542.8 1086.6,566.0 1088.4,538.0 1091.2,545.6 1094.0,536.2 1096.9,556.9 1102.5,541.0 1104.4,546.6 1107.8,528.8 1110.0,548.4 1112.8,558.8 1116.6,568.0 1120.3,578.4 1123.0,559.7 1126.0,560.6 1128.8,545.6 1131.6,554.0 1136.2,557.8 1140.0,568.0 1144.7,552.0 1149.4,572.8 1155.0,553.0 1160.6,585.0 1162.5,564.4 1167.2,596.2 1170.0,582.0 1171.9,587.8 1175.6,584.0 1178.4,585.0 1183.0,575.6 1186.0,575.6 1188.4,548.4 1191.6,566.2 1197.2,565.3 1201.9,570.0 1204.7,567.2 1208.4,574.7 1212.2,584.0 1215.0,569.0 1217.8,566.2 1222.5,578.4 1228.0,580.3 1233.8,590.6 1240.3,588.8 1244.0,578.4 1248.8,598.0 1254.4,593.4 1262.8,606.5 1267.5,601.9 1272.2,612.2 1275.4,625.0 1277.0,618.8 1284.4,609.4 1285.3,618.8 1288.0,612.2 1290.0,615.0 1292.8,611.2 1298.4,616.9 1304.0,607.5 1307.8,609.4 1314.4,607.5 1318.0,606.5 1322.8,605.6 1325.6,598.0 1327.5,602.8 1332.2,600.0 1338.8,604.7 1340.6,598.0 1343.4,602.8 1346.5,599.4 1350.8,607.0 1355.1,610.2 1358.8,612.8 1363.8,605.9 1367.0,611.3 1371.3,613.5 1376.7,615.6 1383.2,613.5 1388.6,615.6 1395.0,613.5 1398.3,621.0 1402.7,620.0 1408.0,613.5 1411.3,616.7 1414.5,623.2 1416.7,627.0 1430.8,627.0 1435.7,622.8 1439.4,625.4 1440.5,627.0" fill="none" stroke="#000000" stroke-width="1" stroke-linejoin="round" />
<polyline points="560.0,627.0 609.0,627.0 611.0,624.4 661.0,624.4 665.0,622.0 714.0,622.0 717.0,617.0 767.0,617.0 770.0,609.0 818.4,608.8 822.0,596.8 870.6,596.8 873.8,585.0 923.4,585.0 927.0,573.8 977.0,573.8 978.8,560.6 1029.0,560.6 1032.0,549.0 1081.0,549.0 1084.0,537.0 1133.4,537.0 1137.0,526.5 1186.5,526.5 1189.7,518.8 1239.4,518.8 1242.0,514.7 1291.0,514.7 1294.0,512.8 1346.0,512.8 1348.0,511.9 1446.0,511.9" fill="none" stroke="#800080" stroke-width="2" stroke-linejoin="round" />
<polyline points="188.0,419.0 195.0,421.0 200.0,422.5 205.0,424.0 212.0,425.0 220.0,427.0 225.0,428.0 235.0,429.0 240.0,430.5 250.0,432.0 258.0,432.5 265.0,435.0 285.0,435.0 290.0,437.0 303.0,437.5 308.0,436.5 312.0,436.0 318.0,437.5 355.0,437.5 360.0,437.0 367.0,436.5 372.0,435.0 378.0,434.0 382.0,432.0 386.0,428.5 392.0,426.0 397.0,424.5 400.0,423.0 403.0,424.0 412.0,424.0 417.0,421.5 421.0,419.5 428.0,419.0 437.0,418.5 442.0,416.0 446.0,418.5 450.0,421.0 455.0,424.0 465.0,424.5 470.0,427.0 474.0,428.0 477.0,427.0 482.0,423.0 487.0,421.5 491.0,417.0 495.0,415.5 498.0,414.0 502.0,415.0 506.0,415.0 510.0,413.0 514.0,410.0 518.0,407.0 524.0,405.5 528.0,403.0 532.0,400.0 535.0,397.0 540.0,395.5 545.0,394.0 550.0,392.0 556.0,390.0 562.0,384.0 570.0,383.0 580.0,380.0 590.0,376.0 600.0,374.0 610.0,371.0 618.0,370.0 622.0,366.0 630.0,362.0 636.0,358.0 642.0,358.0 645.0,359.5 650.0,357.0 655.0,354.0 660.0,350.0 665.0,346.0 670.0,346.0 675.0,347.5 685.0,347.5 692.0,349.0 700.0,349.0 703.0,345.0 708.0,340.0 713.0,337.5 722.0,337.0 730.0,334.0 735.0,330.0 740.0,325.0 745.0,322.0 750.0,318.0 752.0,313.0 757.0,312.0 762.0,312.0 765.0,311.0 770.0,307.0 775.0,305.0 780.0,303.5 785.0,300.0 790.0,299.0 794.0,292.0 797.0,291.0 800.0,292.5 805.0,293.0 808.0,295.5 812.0,292.0 816.0,287.0 820.0,285.0 825.0,282.0 830.0,279.0 834.0,282.0 838.0,286.0 842.0,283.0 846.0,280.0 850.0,278.5 855.0,278.0 858.0,281.0 870.0,281.0 875.0,279.0 880.0,276.0 885.0,270.0 888.0,268.0 892.0,269.0 896.0,271.5 900.0,272.0 905.0,274.5 910.0,277.0 913.0,275.0 918.0,271.0 923.0,268.5 927.0,266.0 930.0,260.0 934.0,256.0 940.0,254.5 945.0,253.0 950.0,256.0 954.0,258.0 958.0,263.0 963.0,263.0 967.0,259.0 972.0,257.5 976.0,258.0 980.0,258.5 985.0,260.0 1000.0,254.0 1006.0,246.0 1012.0,245.0 1018.0,242.0 1025.0,237.5 1029.0,246.0 1033.0,251.0 1037.0,250.0 1044.0,243.0 1048.0,248.0 1054.0,251.0 1058.0,247.0 1062.0,235.0 1066.0,232.0 1070.0,234.0 1078.0,233.5 1082.0,235.0 1086.0,224.5 1090.0,232.0 1093.0,235.0 1102.0,235.0 1106.0,232.0 1110.0,233.0 1115.0,236.0 1120.0,235.0 1135.0,234.5 1140.0,237.5 1145.0,240.0 1150.0,240.0 1155.0,245.0 1159.0,248.0 1162.0,246.0 1166.0,242.0 1170.0,245.0 1174.0,242.0 1188.0,241.5 1190.0,243.5 1194.0,241.0 1203.0,241.5 1207.0,245.0 1213.0,246.5 1218.0,247.0 1222.0,250.0 1227.0,255.0 1232.0,257.0 1245.0,257.5 1249.0,259.5 1255.0,259.5 1257.0,258.0 1260.0,261.0 1271.0,261.0 1276.0,264.0 1280.0,267.0 1285.0,272.0 1290.0,278.0 1294.0,281.0 1298.0,282.0 1302.0,285.0 1310.0,286.0 1317.0,289.0 1322.0,290.0 1327.0,296.0 1334.0,297.0 1340.0,303.0 1345.0,309.0 1350.0,316.0 1355.0,321.0 1360.0,325.5 1364.0,326.0 1370.0,331.0 1373.0,333.0 1376.0,337.0 1380.0,337.0 1385.0,341.0 1390.0,342.0 1395.0,345.0 1400.0,347.0 1405.0,349.0 1410.0,351.0 1415.0,354.5 1420.0,356.5 1425.0,358.0 1430.0,360.0 1436.0,361.0 1441.0,365.0 1446.0,366.0" fill="none" stroke="#ff0000" stroke-width="2" stroke-linejoin="round" />
<g fill="#000">
<rect x="189" y="250" width="2" height="2"/><rect x="192" y="250" width="2" height="2"/><rect x="195" y="250" width="2" height="2"/><rect x="197" y="250" width="2" height="2"/><rect x="199" y="250" width="2" height="2"/><rect x="202" y="250" width="2" height="2"/><rect x="205" y="250" width="2" height="2"/><rect x="207" y="250" width="2" height="2"/><rect x="209" y="250" width="2" height="2"/><rect x="213" y="250" width="2" height="2"/><rect x="217" y="243" width="2" height="2"/><rect x="219" y="243" width="2" height="2"/><rect x="221" y="243" width="2" height="2"/><rect x="224" y="247" width="2" height="2"/><rect x="227" y="249" width="2" height="2"/><rect x="229" y="250" width="2" height="2"/><rect x="232" y="248" width="2" height="2"/><rect x="234" y="250" width="2" height="2"/><rect x="237" y="261" width="2" height="2"/><rect x="239" y="265" width="2" height="2"/><rect x="241" y="265" width="2" height="2"/><rect x="244" y="265" width="2" height="2"/><rect x="247" y="265" width="2" height="2"/><rect x="249" y="265" width="2" height="2"/><rect x="251" y="265" width="2" height="2"/><rect x="254" y="265" width="2" height="2"/><rect x="257" y="265" width="2" height="2"/><rect x="259" y="265" width="2" height="2"/><rect x="261" y="265" width="2" height="2"/><rect x="264" y="266" width="2" height="2"/><rect x="267" y="266" width="2" height="2"/><rect x="271" y="266" width="2" height="2"/><rect x="274" y="266" width="2" height="2"/><rect x="289" y="273" width="2" height="2"/><rect x="291" y="273" width="2" height="2"/><rect x="295" y="271" width="2" height="2"/><rect x="297" y="268" width="2" height="2"/><rect x="300" y="268" width="2" height="2"/><rect x="303" y="269" width="2" height="2"/><rect x="305" y="269" width="2" height="2"/><rect x="308" y="266" width="2" height="2"/><rect x="310" y="266" width="2" height="2"/><rect x="313" y="265" width="2" height="2"/><rect x="316" y="265" width="2" height="2"/><rect x="318" y="263" width="2" height="2"/><rect x="321" y="263" width="2" height="2"/><rect x="323" y="263" width="2" height="2"/><rect x="326" y="265" width="2" height="2"/><rect x="329" y="265" width="2" height="2"/><rect x="331" y="269" width="2" height="2"/><rect x="333" y="269" width="2" height="2"/><rect x="337" y="269" width="2" height="2"/><rect x="339" y="269" width="2" height="2"/><rect x="342" y="267" width="2" height="2"/><rect x="345" y="265" width="2" height="2"/><rect x="348" y="265" width="2" height="2"/><rect x="350" y="265" width="2" height="2"/><rect x="352" y="268" width="2" height="2"/><rect x="355" y="268" width="2" height="2"/><rect x="358" y="268" width="2" height="2"/><rect x="360" y="265" width="2" height="2"/><rect x="363" y="261" width="2" height="2"/><rect x="365" y="261" width="2" height="2"/><rect x="368" y="273" width="2" height="2"/><rect x="371" y="273" width="2" height="2"/><rect x="373" y="271" width="2" height="2"/><rect x="376" y="265" width="2" height="2"/><rect x="379" y="258" width="2" height="2"/><rect x="381" y="268" width="2" height="2"/><rect x="384" y="273" width="2" height="2"/><rect x="387" y="289" width="2" height="2"/><rect x="389" y="291" width="2" height="2"/><rect x="392" y="295" width="2" height="2"/><rect x="394" y="261" width="2" height="2"/><rect x="397" y="260" width="2" height="2"/><rect x="400" y="313" width="2" height="2"/><rect x="402" y="282" width="2" height="2"/><rect x="405" y="279" width="2" height="2"/><rect x="407" y="279" width="2" height="2"/><rect x="410" y="281" width="2" height="2"/><rect x="413" y="268" width="2" height="2"/><rect x="415" y="281" width="2" height="2"/><rect x="418" y="266" width="2" height="2"/><rect x="421" y="287" width="2" height="2"/><rect x="423" y="289" width="2" height="2"/><rect x="426" y="281" width="2" height="2"/><rect x="429" y="318" width="2" height="2"/><rect x="431" y="268" width="2" height="2"/><rect x="434" y="271" width="2" height="2"/><rect x="436" y="234" width="2" height="2"/><rect x="439" y="271" width="2" height="2"/><rect x="442" y="256" width="2" height="2"/><rect x="444" y="250" width="2" height="2"/><rect x="447" y="249" width="2" height="2"/><rect x="449" y="313" width="2" height="2"/><rect x="452" y="287" width="2" height="2"/><rect x="455" y="282" width="2" height="2"/><rect x="457" y="271" width="2" height="2"/><rect x="460" y="271" width="2" height="2"/><rect x="463" y="271" width="2" height="2"/><rect x="465" y="271" width="2" height="2"/><rect x="468" y="266" width="2" height="2"/><rect x="471" y="253" width="2" height="2"/><rect x="473" y="247" width="2" height="2"/><rect x="475" y="247" width="2" height="2"/><rect x="478" y="247" width="2" height="2"/><rect x="481" y="258" width="2" height="2"/><rect x="483" y="258" width="2" height="2"/><rect x="486" y="260" width="2" height="2"/><rect x="489" y="258" width="2" height="2"/><rect x="491" y="258" width="2" height="2"/><rect x="494" y="240" width="2" height="2"/><rect x="497" y="281" width="2" height="2"/><rect x="499" y="287" width="2" height="2"/><rect x="502" y="250" width="2" height="2"/><rect x="505" y="308" width="2" height="2"/><rect x="507" y="277" width="2" height="2"/><rect x="510" y="295" width="2" height="2"/><rect x="513" y="282" width="2" height="2"/><rect x="515" y="282" width="2" height="2"/><rect x="518" y="310" width="2" height="2"/><rect x="520" y="252" width="2" height="2"/><rect x="523" y="292" width="2" height="2"/><rect x="526" y="281" width="2" height="2"/><rect x="528" y="284" width="2" height="2"/><rect x="531" y="224" width="2" height="2"/><rect x="533" y="274" width="2" height="2"/><rect x="536" y="289" width="2" height="2"/><rect x="539" y="281" width="2" height="2"/><rect x="541" y="281" width="2" height="2"/><rect x="544" y="269" width="2" height="2"/><rect x="547" y="281" width="2" height="2"/><rect x="550" y="284" width="2" height="2"/><rect x="552" y="284" width="2" height="2"/><rect x="555" y="277" width="2" height="2"/><rect x="559" y="292" width="2" height="2"/><rect x="562" y="281" width="2" height="2"/><rect x="565" y="292" width="2" height="2"/><rect x="568" y="253" width="2" height="2"/><rect x="570" y="276" width="2" height="2"/><rect x="573" y="265" width="2" height="2"/><rect x="575" y="265" width="2" height="2"/><rect x="578" y="237" width="2" height="2"/><rect x="791" y="153" width="2" height="2"/><rect x="783" y="173" width="2" height="2"/><rect x="780" y="176" width="2" height="2"/><rect x="817" y="169" width="2" height="2"/><rect x="875" y="174" width="2" height="2"/><rect x="872" y="177" width="2" height="2"/><rect x="911" y="181" width="2" height="2"/><rect x="888" y="186" width="2" height="2"/><rect x="825" y="189" width="2" height="2"/><rect x="820" y="190" width="2" height="2"/><rect x="972" y="189" width="2" height="2"/><rect x="762" y="194" width="2" height="2"/><rect x="807" y="193" width="2" height="2"/><rect x="877" y="197" width="2" height="2"/><rect x="883" y="198" width="2" height="2"/><rect x="849" y="200" width="2" height="2"/><rect x="859" y="202" width="2" height="2"/><rect x="862" y="202" width="2" height="2"/><rect x="948" y="200" width="2" height="2"/><rect x="804" y="203" width="2" height="2"/><rect x="812" y="202" width="2" height="2"/><rect x="977" y="201" width="2" height="2"/><rect x="581" y="207" width="2" height="2"/><rect x="759" y="207" width="2" height="2"/><rect x="778" y="205" width="2" height="2"/><rect x="925" y="208" width="2" height="2"/><rect x="951" y="207" width="2" height="2"/><rect x="959" y="207" width="2" height="2"/><rect x="961" y="207" width="2" height="2"/><rect x="935" y="211" width="2" height="2"/><rect x="940" y="213" width="2" height="2"/><rect x="583" y="215" width="2" height="2"/><rect x="602" y="213" width="2" height="2"/><rect x="633" y="213" width="2" height="2"/><rect x="657" y="215" width="2" height="2"/><rect x="785" y="215" width="2" height="2"/><rect x="827" y="215" width="2" height="2"/><rect x="822" y="218" width="2" height="2"/><rect x="898" y="215" width="2" height="2"/><rect x="904" y="213" width="2" height="2"/><rect x="927" y="218" width="2" height="2"/><rect x="967" y="218" width="2" height="2"/><rect x="751" y="218" width="2" height="2"/><rect x="691" y="223" width="2" height="2"/><rect x="701" y="223" width="2" height="2"/><rect x="730" y="223" width="2" height="2"/><rect x="738" y="224" width="2" height="2"/><rect x="814" y="223" width="2" height="2"/><rect x="901" y="223" width="2" height="2"/><rect x="909" y="221" width="2" height="2"/><rect x="975" y="224" width="2" height="2"/><rect x="662" y="227" width="2" height="2"/><rect x="644" y="229" width="2" height="2"/><rect x="717" y="227" width="2" height="2"/><rect x="835" y="227" width="2" height="2"/><rect x="854" y="227" width="2" height="2"/><rect x="864" y="227" width="2" height="2"/><rect x="930" y="227" width="2" height="2"/><rect x="594" y="231" width="2" height="2"/><rect x="746" y="231" width="2" height="2"/><rect x="788" y="231" width="2" height="2"/><rect x="838" y="232" width="2" height="2"/><rect x="851" y="231" width="2" height="2"/><rect x="946" y="231" width="2" height="2"/><rect x="683" y="235" width="2" height="2"/><rect x="767" y="234" width="2" height="2"/><rect x="636" y="237" width="2" height="2"/><rect x="620" y="239" width="2" height="2"/><rect x="906" y="237" width="2" height="2"/><rect x="846" y="239" width="2" height="2"/><rect x="754" y="239" width="2" height="2"/><rect x="919" y="240" width="2" height="2"/><rect x="969" y="240" width="2" height="2"/><rect x="922" y="243" width="2" height="2"/><rect x="943" y="242" width="2" height="2"/><rect x="639" y="244" width="2" height="2"/><rect x="704" y="244" width="2" height="2"/><rect x="715" y="245" width="2" height="2"/><rect x="893" y="244" width="2" height="2"/><rect x="628" y="247" width="2" height="2"/><rect x="673" y="247" width="2" height="2"/><rect x="688" y="247" width="2" height="2"/><rect x="770" y="248" width="2" height="2"/><rect x="830" y="247" width="2" height="2"/><rect x="867" y="247" width="2" height="2"/><rect x="641" y="250" width="2" height="2"/><rect x="801" y="253" width="2" height="2"/><rect x="956" y="253" width="2" height="2"/><rect x="757" y="252" width="2" height="2"/><rect x="625" y="255" width="2" height="2"/><rect x="696" y="255" width="2" height="2"/><rect x="765" y="256" width="2" height="2"/><rect x="896" y="255" width="2" height="2"/><rect x="610" y="260" width="2" height="2"/><rect x="749" y="258" width="2" height="2"/><rect x="833" y="258" width="2" height="2"/><rect x="869" y="258" width="2" height="2"/><rect x="914" y="258" width="2" height="2"/><rect x="675" y="263" width="2" height="2"/><rect x="733" y="263" width="2" height="2"/><rect x="880" y="261" width="2" height="2"/><rect x="589" y="269" width="2" height="2"/><rect x="599" y="269" width="2" height="2"/><rect x="604" y="271" width="2" height="2"/><rect x="607" y="268" width="2" height="2"/><rect x="615" y="269" width="2" height="2"/><rect x="623" y="268" width="2" height="2"/><rect x="586" y="274" width="2" height="2"/><rect x="617" y="276" width="2" height="2"/><rect x="631" y="273" width="2" height="2"/><rect x="649" y="274" width="2" height="2"/><rect x="652" y="268" width="2" height="2"/><rect x="665" y="271" width="2" height="2"/><rect x="659" y="277" width="2" height="2"/><rect x="679" y="277" width="2" height="2"/><rect x="612" y="284" width="2" height="2"/><rect x="646" y="285" width="2" height="2"/><rect x="668" y="281" width="2" height="2"/><rect x="670" y="282" width="2" height="2"/><rect x="591" y="293" width="2" height="2"/><rect x="597" y="293" width="2" height="2"/><rect x="699" y="292" width="2" height="2"/><rect x="709" y="284" width="2" height="2"/><rect x="707" y="269" width="2" height="2"/><rect x="720" y="293" width="2" height="2"/><rect x="725" y="285" width="2" height="2"/><rect x="728" y="290" width="2" height="2"/><rect x="736" y="273" width="2" height="2"/><rect x="741" y="279" width="2" height="2"/><rect x="743" y="282" width="2" height="2"/><rect x="654" y="306" width="2" height="2"/><rect x="723" y="306" width="2" height="2"/><rect x="694" y="318" width="2" height="2"/><rect x="686" y="331" width="2" height="2"/><rect x="681" y="345" width="2" height="2"/><rect x="772" y="297" width="2" height="2"/><rect x="775" y="274" width="2" height="2"/><rect x="796" y="269" width="2" height="2"/><rect x="799" y="271" width="2" height="2"/><rect x="809" y="277" width="2" height="2"/><rect x="891" y="305" width="2" height="2"/><rect x="917" y="276" width="2" height="2"/><rect x="933" y="285" width="2" height="2"/><rect x="938" y="268" width="2" height="2"/><rect x="953" y="277" width="2" height="2"/><rect x="1024" y="161" width="2" height="2"/><rect x="1056" y="166" width="2" height="2"/><rect x="990" y="177" width="2" height="2"/><rect x="1030" y="181" width="2" height="2"/><rect x="1048" y="181" width="2" height="2"/><rect x="1001" y="186" width="2" height="2"/><rect x="1022" y="189" width="2" height="2"/><rect x="985" y="193" width="2" height="2"/><rect x="1074" y="194" width="2" height="2"/><rect x="1040" y="200" width="2" height="2"/><rect x="1019" y="205" width="2" height="2"/><rect x="1059" y="207" width="2" height="2"/><rect x="1077" y="207" width="2" height="2"/><rect x="1079" y="207" width="2" height="2"/><rect x="988" y="219" width="2" height="2"/><rect x="995" y="221" width="2" height="2"/><rect x="1006" y="218" width="2" height="2"/><rect x="1011" y="218" width="2" height="2"/><rect x="1014" y="223" width="2" height="2"/><rect x="980" y="227" width="2" height="2"/><rect x="1161" y="211" width="2" height="2"/><rect x="1150" y="219" width="2" height="2"/><rect x="1163" y="221" width="2" height="2"/><rect x="1198" y="210" width="2" height="2"/><rect x="1205" y="177" width="2" height="2"/><rect x="1221" y="213" width="2" height="2"/><rect x="1213" y="226" width="2" height="2"/><rect x="1203" y="231" width="2" height="2"/><rect x="1043" y="235" width="2" height="2"/><rect x="1224" y="240" width="2" height="2"/><rect x="1037" y="242" width="2" height="2"/><rect x="1032" y="245" width="2" height="2"/><rect x="1061" y="242" width="2" height="2"/><rect x="1066" y="250" width="2" height="2"/><rect x="1069" y="248" width="2" height="2"/><rect x="1103" y="245" width="2" height="2"/><rect x="1090" y="253" width="2" height="2"/><rect x="1140" y="250" width="2" height="2"/><rect x="1158" y="253" width="2" height="2"/><rect x="1185" y="244" width="2" height="2"/><rect x="1190" y="250" width="2" height="2"/><rect x="1195" y="250" width="2" height="2"/><rect x="1211" y="244" width="2" height="2"/><rect x="1219" y="252" width="2" height="2"/><rect x="1229" y="253" width="2" height="2"/><rect x="1242" y="245" width="2" height="2"/><rect x="1098" y="261" width="2" height="2"/><rect x="1114" y="261" width="2" height="2"/><rect x="1137" y="263" width="2" height="2"/><rect x="1143" y="261" width="2" height="2"/><rect x="1153" y="260" width="2" height="2"/><rect x="982" y="271" width="2" height="2"/><rect x="993" y="268" width="2" height="2"/><rect x="1027" y="271" width="2" height="2"/><rect x="1035" y="279" width="2" height="2"/><rect x="1009" y="281" width="2" height="2"/><rect x="998" y="287" width="2" height="2"/><rect x="1017" y="290" width="2" height="2"/><rect x="1003" y="297" width="2" height="2"/><rect x="1053" y="291" width="2" height="2"/><rect x="1072" y="293" width="2" height="2"/><rect x="1085" y="271" width="2" height="2"/><rect x="1087" y="284" width="2" height="2"/><rect x="1095" y="287" width="2" height="2"/><rect x="1107" y="269" width="2" height="2"/><rect x="1111" y="273" width="2" height="2"/><rect x="1129" y="284" width="2" height="2"/><rect x="1135" y="277" width="2" height="2"/><rect x="1145" y="266" width="2" height="2"/><rect x="1148" y="279" width="2" height="2"/><rect x="1156" y="276" width="2" height="2"/><rect x="1167" y="265" width="2" height="2"/><rect x="1169" y="268" width="2" height="2"/><rect x="1174" y="289" width="2" height="2"/><rect x="1177" y="298" width="2" height="2"/><rect x="1179" y="282" width="2" height="2"/><rect x="1181" y="284" width="2" height="2"/><rect x="1192" y="305" width="2" height="2"/><rect x="1200" y="268" width="2" height="2"/><rect x="1117" y="306" width="2" height="2"/><rect x="1132" y="316" width="2" height="2"/><rect x="1093" y="329" width="2" height="2"/><rect x="1214" y="271" width="2" height="2"/><rect x="1227" y="290" width="2" height="2"/><rect x="1232" y="285" width="2" height="2"/><rect x="1234" y="274" width="2" height="2"/><rect x="1237" y="277" width="2" height="2"/><rect x="1240" y="273" width="2" height="2"/><rect x="1245" y="289" width="2" height="2"/><rect x="1247" y="273" width="2" height="2"/><rect x="1250" y="300" width="2" height="2"/><rect x="1254" y="303" width="2" height="2"/><rect x="1258" y="277" width="2" height="2"/><rect x="1261" y="284" width="2" height="2"/><rect x="1263" y="269" width="2" height="2"/><rect x="1265" y="287" width="2" height="2"/><rect x="1269" y="289" width="2" height="2"/><rect x="1271" y="293" width="2" height="2"/><rect x="1274" y="293" width="2" height="2"/><rect x="1276" y="308" width="2" height="2"/><rect x="1279" y="303" width="2" height="2"/><rect x="1283" y="303" width="2" height="2"/><rect x="1288" y="302" width="2" height="2"/><rect x="1290" y="303" width="2" height="2"/><rect x="1291" y="308" width="2" height="2"/><rect x="1295" y="304" width="2" height="2"/><rect x="1298" y="303" width="2" height="2"/><rect x="1300" y="301" width="2" height="2"/><rect x="1303" y="298" width="2" height="2"/><rect x="1307" y="284" width="2" height="2"/><rect x="1309" y="282" width="2" height="2"/><rect x="1311" y="282" width="2" height="2"/><rect x="1316" y="285" width="2" height="2"/><rect x="1319" y="297" width="2" height="2"/><rect x="1321" y="298" width="2" height="2"/><rect x="1324" y="291" width="2" height="2"/><rect x="1326" y="281" width="2" height="2"/><rect x="1329" y="284" width="2" height="2"/><rect x="1331" y="293" width="2" height="2"/><rect x="1333" y="293" width="2" height="2"/><rect x="1337" y="290" width="2" height="2"/><rect x="1339" y="311" width="2" height="2"/><rect x="1342" y="309" width="2" height="2"/><rect x="1345" y="311" width="2" height="2"/><rect x="1347" y="287" width="2" height="2"/><rect x="1350" y="297" width="2" height="2"/><rect x="1353" y="308" width="2" height="2"/><rect x="1355" y="313" width="2" height="2"/><rect x="1358" y="314" width="2" height="2"/><rect x="1360" y="318" width="2" height="2"/><rect x="1363" y="319" width="2" height="2"/><rect x="1366" y="319" width="2" height="2"/><rect x="1369" y="320" width="2" height="2"/><rect x="1371" y="321" width="2" height="2"/><rect x="1374" y="321" width="2" height="2"/><rect x="1377" y="321" width="2" height="2"/><rect x="1379" y="321" width="2" height="2"/><rect x="1384" y="323" width="2" height="2"/><rect x="1387" y="323" width="2" height="2"/><rect x="1389" y="323" width="2" height="2"/><rect x="1391" y="323" width="2" height="2"/><rect x="1394" y="323" width="2" height="2"/><rect x="1397" y="323" width="2" height="2"/><rect x="1399" y="323" width="2" height="2"/><rect x="1401" y="323" width="2" height="2"/><rect x="1404" y="323" width="2" height="2"/><rect x="1407" y="323" width="2" height="2"/><rect x="1409" y="323" width="2" height="2"/><rect x="1411" y="323" width="2" height="2"/><rect x="1414" y="323" width="2" height="2"/><rect x="1431" y="323" width="2" height="2"/><rect x="1434" y="323" width="2" height="2"/><rect x="1437" y="323" width="2" height="2"/>
</g>
<rect x="189" y="627" width="1257" height="1" fill="#0a96f0"/><rect x="189" y="628" width="1257" height="1" fill="#70a8d0"/>
<rect x="187" y="47" width="2" height="582" fill="#808080"/>
<rect x="187" y="47" width="1262" height="2" fill="#808080"/>
<rect x="1445" y="49" width="1" height="579" fill="#808080"/>
<rect x="1447" y="47" width="2" height="582" fill="#808080"/>
<rect x="188" y="629" width="1" height="4" fill="#808080"/>
<text x="189.3" y="647" class="m">00:00</text>
<rect x="240" y="629" width="1" height="4" fill="#808080"/>
<text x="241.3" y="647" class="m">01:00</text>
<rect x="293" y="629" width="1" height="4" fill="#808080"/>
<text x="294.3" y="647" class="m">02:00</text>
<rect x="346" y="629" width="1" height="4" fill="#808080"/>
<text x="347.3" y="647" class="m">03:00</text>
<rect x="398" y="629" width="1" height="4" fill="#808080"/>
<text x="399.3" y="647" class="m">04:00</text>
<rect x="450" y="629" width="1" height="4" fill="#808080"/>
<text x="451.3" y="647" class="m">05:00</text>
<rect x="503" y="629" width="1" height="4" fill="#808080"/>
<text x="504.3" y="647" class="m">06:00</text>
<rect x="556" y="629" width="1" height="4" fill="#808080"/>
<text x="557.3" y="647" class="m">07:00</text>
<rect x="608" y="629" width="1" height="4" fill="#808080"/>
<text x="609.3" y="647" class="m">08:00</text>
<rect x="660" y="629" width="1" height="4" fill="#808080"/>
<text x="661.3" y="647" class="m">09:00</text>
<rect x="713" y="629" width="1" height="4" fill="#808080"/>
<text x="714.3" y="647" class="m">10:00</text>
<rect x="766" y="629" width="1" height="4" fill="#808080"/>
<text x="767.3" y="647" class="m">11:00</text>
<rect x="818" y="629" width="1" height="4" fill="#808080"/>
<text x="819.3" y="647" class="m">12:00</text>
<rect x="870" y="629" width="1" height="4" fill="#808080"/>
<text x="871.3" y="647" class="m">13:00</text>
<rect x="923" y="629" width="1" height="4" fill="#808080"/>
<text x="924.3" y="647" class="m">14:00</text>
<rect x="976" y="629" width="1" height="4" fill="#808080"/>
<text x="977.3" y="647" class="m">15:00</text>
<rect x="1028" y="629" width="1" height="4" fill="#808080"/>
<text x="1029.3" y="647" class="m">16:00</text>
<rect x="1080" y="629" width="1" height="4" fill="#808080"/>
<text x="1081.3" y="647" class="m">17:00</text>
<rect x="1133" y="629" width="1" height="4" fill="#808080"/>
<text x="1134.3" y="647" class="m">18:00</text>
<rect x="1186" y="629" width="1" height="4" fill="#808080"/>
<text x="1187.3" y="647" class="m">19:00</text>
<rect x="1238" y="629" width="1" height="4" fill="#808080"/>
<text x="1239.3" y="647" class="m">20:00</text>
<rect x="1290" y="629" width="1" height="4" fill="#808080"/>
<text x="1291.3" y="647" class="m">21:00</text>
<rect x="1343" y="629" width="1" height="4" fill="#808080"/>
<text x="1344.3" y="647" class="m">22:00</text>
<rect x="1396" y="629" width="1" height="4" fill="#808080"/>
<text x="1397.3" y="647" class="m">23:00</text>
<rect x="1448" y="629" width="1" height="4" fill="#808080"/>
<text x="1449.3" y="647" class="m">24:00</text>
<rect x="40" y="48" width="1" height="581" fill="#808080"/>
<rect x="36" y="48" width="8" height="1" fill="#808080"/>
<text x="34.3" y="52.5" class="e" fill="#ff0000">35.0</text>
<rect x="36" y="120" width="5" height="1" fill="#808080"/>
<text x="34.3" y="124.5" class="e" fill="#ff0000">30.0</text>
<rect x="36" y="193" width="5" height="1" fill="#808080"/>
<text x="34.3" y="197.5" class="e" fill="#ff0000">25.0</text>
<rect x="36" y="266" width="5" height="1" fill="#808080"/>
<text x="34.3" y="270.5" class="e" fill="#ff0000">20.0</text>
<rect x="36" y="338" width="5" height="1" fill="#808080"/>
<text x="34.3" y="342.5" class="e" fill="#ff0000">15.0</text>
<rect x="36" y="410" width="5" height="1" fill="#808080"/>
<text x="34.3" y="414.5" class="e" fill="#ff0000">10.0</text>
<rect x="36" y="483" width="5" height="1" fill="#808080"/>
<text x="34.3" y="487.5" class="e" fill="#ff0000">5.0</text>
<rect x="36" y="556" width="5" height="1" fill="#808080"/>
<text x="34.3" y="560.5" class="e" fill="#ff0000">0.0</text>
<rect x="36" y="628" width="8" height="1" fill="#808080"/>
<text x="34.3" y="632.5" class="e" fill="#ff0000">-5.0</text>
<rect x="77" y="48" width="1" height="581" fill="#808080"/>
<rect x="73" y="48" width="8" height="1" fill="#808080"/>
<text x="71.3" y="52.5" class="e" fill="#00a000">1050</text>
<rect x="73" y="120" width="5" height="1" fill="#808080"/>
<text x="71.3" y="124.5" class="e" fill="#00a000">1040</text>
<rect x="73" y="193" width="5" height="1" fill="#808080"/>
<text x="71.3" y="197.5" class="e" fill="#00a000">1030</text>
<rect x="73" y="266" width="5" height="1" fill="#808080"/>
<text x="71.3" y="270.5" class="e" fill="#00a000">1020</text>
<rect x="73" y="338" width="5" height="1" fill="#808080"/>
<text x="71.3" y="342.5" class="e" fill="#00a000">1010</text>
<rect x="73" y="410" width="5" height="1" fill="#808080"/>
<text x="71.3" y="414.5" class="e" fill="#00a000">1000</text>
<rect x="73" y="483" width="5" height="1" fill="#808080"/>
<text x="71.3" y="487.5" class="e" fill="#00a000">990</text>
<rect x="73" y="556" width="5" height="1" fill="#808080"/>
<text x="71.3" y="560.5" class="e" fill="#00a000">980</text>
<rect x="73" y="628" width="8" height="1" fill="#808080"/>
<text x="71.3" y="632.5" class="e" fill="#00a000">970</text>
<rect x="114" y="48" width="1" height="581" fill="#808080"/>
<rect x="110" y="48" width="8" height="1" fill="#808080"/>
<text x="108.3" y="52.5" class="e" fill="#000000">120.0</text>
<rect x="110" y="96" width="5" height="1" fill="#808080"/>
<text x="108.3" y="100.5" class="e" fill="#000000">110.0</text>
<rect x="110" y="145" width="5" height="1" fill="#808080"/>
<text x="108.3" y="149.5" class="e" fill="#000000">100.0</text>
<rect x="110" y="193" width="5" height="1" fill="#808080"/>
<text x="108.3" y="197.5" class="e" fill="#000000">90.0</text>
<rect x="110" y="241" width="5" height="1" fill="#808080"/>
<text x="108.3" y="245.5" class="e" fill="#000000">80.0</text>
<rect x="110" y="290" width="5" height="1" fill="#808080"/>
<text x="108.3" y="294.5" class="e" fill="#000000">70.0</text>
<rect x="110" y="338" width="5" height="1" fill="#808080"/>
<text x="108.3" y="342.5" class="e" fill="#000000">60.0</text>
<rect x="110" y="386" width="5" height="1" fill="#808080"/>
<text x="108.3" y="390.5" class="e" fill="#000000">50.0</text>
<rect x="110" y="435" width="5" height="1" fill="#808080"/>
<text x="108.3" y="439.5" class="e" fill="#000000">40.0</text>
<rect x="110" y="483" width="5" height="1" fill="#808080"/>
<text x="108.3" y="487.5" class="e" fill="#000000">30.0</text>
<rect x="110" y="531" width="5" height="1" fill="#808080"/>
<text x="108.3" y="535.5" class="e" fill="#000000">20.0</text>
<rect x="110" y="580" width="5" height="1" fill="#808080"/>
<text x="108.3" y="584.5" class="e" fill="#000000">10.0</text>
<rect x="110" y="628" width="8" height="1" fill="#808080"/>
<text x="108.3" y="632.5" class="e" fill="#000000">0.0</text>
<rect x="151" y="48" width="1" height="581" fill="#808080"/>
<rect x="147" y="48" width="8" height="1" fill="#808080"/>
<text x="145.4" y="52.5" class="e" fill="#ffc000">30</text>
<rect x="147" y="145" width="5" height="1" fill="#808080"/>
<text x="145.4" y="149.5" class="e" fill="#ffc000">25</text>
<rect x="147" y="241" width="5" height="1" fill="#808080"/>
<text x="145.4" y="245.5" class="e" fill="#ffc000">20</text>
<rect x="147" y="338" width="5" height="1" fill="#808080"/>
<text x="145.4" y="342.5" class="e" fill="#ffc000">15</text>
<rect x="147" y="435" width="5" height="1" fill="#808080"/>
<text x="145.4" y="439.5" class="e" fill="#ffc000">10</text>
<rect x="147" y="531" width="5" height="1" fill="#808080"/>
<text x="145.4" y="535.5" class="e" fill="#ffc000">5</text>
<rect x="147" y="628" width="8" height="1" fill="#808080"/>
<text x="145.4" y="632.5" class="e" fill="#ffc000">0</text>
<rect x="184" y="48" width="3" height="1" fill="#808080"/>
 <text x="181.4" y="52.5" class="e" fill="#ff8000">1200</text>
<rect x="184" y="120" width="3" height="1" fill="#808080"/>
 <text x="181.4" y="124.5" class="e" fill="#ff8000">1050</text>
<rect x="184" y="193" width="3" height="1" fill="#808080"/>
 <text x="181.4" y="197.5" class="e" fill="#ff8000">900</text>
<rect x="184" y="266" width="3" height="1" fill="#808080"/>
 <text x="181.4" y="270.5" class="e" fill="#ff8000">750</text>
<rect x="184" y="338" width="3" height="1" fill="#808080"/>
 <text x="181.4" y="342.5" class="e" fill="#ff8000">600</text>
<rect x="184" y="410" width="3" height="1" fill="#808080"/>
 <text x="181.4" y="414.5" class="e" fill="#ff8000">450</text>
<rect x="184" y="483" width="3" height="1" fill="#808080"/>
 <text x="181.4" y="487.5" class="e" fill="#ff8000">300</text>
<rect x="184" y="556" width="3" height="1" fill="#808080"/>
 <text x="181.4" y="560.5" class="e" fill="#ff8000">150</text>
<rect x="184" y="628" width="3" height="1" fill="#808080"/>
 <text x="181.4" y="632.5" class="e" fill="#ff8000">0</text>
<rect x="1449" y="48" width="4" height="1" fill="#808080"/>
<text x="1454" y="52.5" fill="#0000ff">100</text>
<rect x="1449" y="120" width="4" height="1" fill="#808080"/>
<text x="1454" y="124.5" fill="#0000ff">90</text>
<rect x="1449" y="193" width="4" height="1" fill="#808080"/>
<text x="1454" y="197.5" fill="#0000ff">80</text>
<rect x="1449" y="266" width="4" height="1" fill="#808080"/>
<text x="1454" y="270.5" fill="#0000ff">70</text>
<rect x="1449" y="338" width="4" height="1" fill="#808080"/>
<text x="1454" y="342.5" fill="#0000ff">60</text>
<rect x="1449" y="410" width="4" height="1" fill="#808080"/>
<text x="1454" y="414.5" fill="#0000ff">50</text>
<rect x="1449" y="483" width="4" height="1" fill="#808080"/>
<text x="1454" y="487.5" fill="#0000ff">40</text>
<rect x="1449" y="556" width="4" height="1" fill="#808080"/>
<text x="1454" y="560.5" fill="#0000ff">30</text>
<rect x="1449" y="628" width="4" height="1" fill="#808080"/>
<text x="1454" y="632.5" fill="#0000ff">20</text>
<rect x="1485" y="48" width="1" height="581" fill="#808080"/>
<rect x="1481" y="48" width="9" height="1" fill="#808080"/>
<text x="1491" y="52.5" fill="#0099ff">16.0</text>
<rect x="1485" y="120" width="5" height="1" fill="#808080"/>
<text x="1491" y="124.5" fill="#0099ff">14.0</text>
<rect x="1485" y="193" width="5" height="1" fill="#808080"/>
<text x="1491" y="197.5" fill="#0099ff">12.0</text>
<rect x="1485" y="266" width="5" height="1" fill="#808080"/>
<text x="1491" y="270.5" fill="#0099ff">10.0</text>
<rect x="1485" y="338" width="5" height="1" fill="#808080"/>
<text x="1491" y="342.5" fill="#0099ff">8.0</text>
<rect x="1485" y="410" width="5" height="1" fill="#808080"/>
<text x="1491" y="414.5" fill="#0099ff">6.0</text>
<rect x="1485" y="483" width="5" height="1" fill="#808080"/>
<text x="1491" y="487.5" fill="#0099ff">4.0</text>
<rect x="1485" y="556" width="5" height="1" fill="#808080"/>
<text x="1491" y="560.5" fill="#0099ff">2.0</text>
<rect x="1481" y="628" width="9" height="1" fill="#808080"/>
<text x="1491" y="632.5" fill="#0099ff">0.0</text>
<rect x="1522" y="48" width="1" height="581" fill="#808080"/>
<rect x="1518" y="48" width="9" height="1" fill="#808080"/>
<text x="1528" y="52.5" fill="#000000">360 N</text>
<rect x="1522" y="120" width="5" height="1" fill="#808080"/>
<text x="1528" y="124.5" fill="#000000">315</text>
<rect x="1522" y="193" width="5" height="1" fill="#808080"/>
<text x="1528" y="197.5" fill="#000000">270 W</text>
<rect x="1522" y="266" width="5" height="1" fill="#808080"/>
<text x="1528" y="270.5" fill="#000000">225</text>
<rect x="1522" y="338" width="5" height="1" fill="#808080"/>
<text x="1528" y="342.5" fill="#000000">180 S</text>
<rect x="1522" y="410" width="5" height="1" fill="#808080"/>
<text x="1528" y="414.5" fill="#000000">135</text>
<rect x="1522" y="483" width="5" height="1" fill="#808080"/>
<text x="1528" y="487.5" fill="#000000">90 O</text>
<rect x="1522" y="556" width="5" height="1" fill="#808080"/>
<text x="1528" y="560.5" fill="#000000">45</text>
<rect x="1518" y="628" width="9" height="1" fill="#808080"/>
<text x="1528" y="632.5" fill="#000000">0</text>
<text x="1546" y="632.6" fill="#000">N</text>
<rect x="1559" y="48" width="1" height="581" fill="#808080"/>
<rect x="1555" y="48" width="9" height="1" fill="#808080"/>
<text x="1565" y="52.5" fill="#ff0090">16.0</text>
<rect x="1559" y="120" width="5" height="1" fill="#808080"/>
<text x="1565" y="124.5" fill="#ff0090">14.0</text>
<rect x="1559" y="193" width="5" height="1" fill="#808080"/>
<text x="1565" y="197.5" fill="#ff0090">12.0</text>
<rect x="1559" y="266" width="5" height="1" fill="#808080"/>
<text x="1565" y="270.5" fill="#ff0090">10.0</text>
<rect x="1559" y="338" width="5" height="1" fill="#808080"/>
<text x="1565" y="342.5" fill="#ff0090">8.0</text>
<rect x="1559" y="410" width="5" height="1" fill="#808080"/>
<text x="1565" y="414.5" fill="#ff0090">6.0</text>
<rect x="1559" y="483" width="5" height="1" fill="#808080"/>
<text x="1565" y="487.5" fill="#ff0090">4.0</text>
<rect x="1559" y="556" width="5" height="1" fill="#808080"/>
<text x="1565" y="560.5" fill="#ff0090">2.0</text>
<rect x="1555" y="628" width="9" height="1" fill="#808080"/>
<text x="1565" y="632.5" fill="#ff0090">0.0</text>
<text x="25" y="37" class="m" fill="#ff0000">°C</text>
<text x="48" y="37" fill="#00a000">hPa</text>
<text x="79.8" y="37" fill="#000">km/h</text>
<text x="125" y="37" fill="#ffc000">min</text>
<text x="151" y="37" fill="#ff8000">W/m²</text>
<text x="1449" y="37" fill="#0000ff">%</text>
<text x="1485" y="37" fill="#0099ff">l/m²</text>
<text x="1522" y="37" fill="#000">°</text>
<text x="1559" y="37" fill="#ff0090">UV-I</text>
<text x="802.5" y="21" class="t m" fill="#000">Freitag, 05.07.2024</text>
<rect x="198" y="33" width="10" height="10" fill="#000"/><rect x="199" y="34" width="8" height="8" fill="#ff0000"/>
<text x="212.3" y="42" fill="#ff0000">Temp. A.</text>
<rect x="293" y="33" width="10" height="10" fill="#000"/><rect x="294" y="34" width="8" height="8" fill="#0000ff"/>
<text x="307.3" y="42" fill="#0000ff">Feuchte A.</text>
<rect x="388" y="33" width="10" height="10" fill="#000"/><rect x="389" y="34" width="8" height="8" fill="#00a000"/>
<text x="402.3" y="42" fill="#00a000">Luftdruck</text>
<rect x="483" y="33" width="10" height="10" fill="#000"/><rect x="484" y="34" width="8" height="8" fill="#0099ff"/>
<text x="497.3" y="42" fill="#0099ff">Regen</text>
<rect x="578" y="33" width="10" height="10" fill="#000"/><rect x="579" y="34" width="8" height="8" fill="#000000"/>
<text x="592.3" y="42" fill="#000000">Wind</text>
<rect x="673" y="33" width="10" height="10" fill="#000"/><rect x="674" y="34" width="8" height="8" fill="#000000"/>
<text x="687.3" y="42" fill="#000000">Richtung</text>
<rect x="768" y="33" width="10" height="10" fill="#000"/><rect x="769" y="34" width="8" height="8" fill="#ffc000"/>
<text x="782.3" y="42" fill="#ffc000">Sonnenschein</text>
<rect x="863" y="33" width="10" height="10" fill="#000"/><rect x="864" y="34" width="8" height="8" fill="#800080"/>
<text x="877.3" y="42" fill="#0099ff">ET</text>
<rect x="958" y="33" width="10" height="10" fill="#000"/><rect x="959" y="34" width="8" height="8" fill="#ff0090"/>
<text x="972.3" y="42" fill="#ff0090">UV</text>
<rect x="1053" y="33" width="10" height="10" fill="#000"/><rect x="1054" y="34" width="8" height="8" fill="#ff8000"/>
<text x="1067.3" y="42" fill="#ff8000">Solar</text>
<rect x="1148" y="33" width="10" height="10" fill="#000"/><rect x="1149" y="34" width="8" height="8" fill="#ff5a00"/>
<text x="1162.3" y="42" fill="#ff0000">Taupunkt</text>
<rect x="1243" y="33" width="10" height="10" fill="#000"/><rect x="1244" y="34" width="8" height="8" fill="#804000"/>
<text x="1257.3" y="42" fill="#000000">Windböen</text>
<rect x="1338" y="33" width="10" height="1" fill="#ff0000"/><rect x="1347" y="33" width="1" height="10" fill="#ff0000"/><rect x="1338" y="33" width="1" height="8" fill="#ff0000"/><rect x="1344" y="42" width="4" height="1" fill="#ff0000"/>
<text x="1353" y="42" fill="#ff0000">17.3 Monat-Ø</text>
<text x="11" y="658" fill="#000">16:10</text>
<path d="M40 657 L40 655 L42 652 L45 651 L47 652 L49 655 L49 657 Z" fill="#ffff00" shape-rendering="auto"/>
<text x="447" y="658" fill="#000">05:34</text>
<rect x="479" y="624" width="2" height="3" fill="#ffff00"/><rect x="479" y="629" width="2" height="8" fill="#ffff00"/>
<g shape-rendering="auto"><circle cx="480.5" cy="653.5" r="3.2" fill="#ffff00"/><path d="M480.5 648v11M475 653.5h11M476.6 649.6l7.8 7.8M476.6 657.4l7.8 -7.8" stroke="#ffff00" stroke-width="1" opacity="0.6"/></g>
<text x="1297" y="658" fill="#000">21:44</text>
<rect x="1329" y="624" width="2" height="3" fill="#ffff00"/><rect x="1329" y="629" width="2" height="8" fill="#ffff00"/>
<rect x="1328.5" y="651.5" width="4" height="4" fill="none" stroke="#ffee55" stroke-width="1"/>
<rect x="1" y="668" width="1597" height="72" fill="#c0ffff"/>
<rect x="88" y="668" width="1" height="72" fill="#808080"/>
<rect x="205" y="668" width="1" height="72" fill="#808080"/>
<rect x="323" y="668" width="1" height="72" fill="#808080"/>
<rect x="441" y="668" width="1" height="72" fill="#808080"/>
<rect x="559" y="668" width="1" height="72" fill="#808080"/>
<rect x="677" y="668" width="1" height="72" fill="#808080"/>
<rect x="795" y="668" width="1" height="72" fill="#808080"/>
<rect x="913" y="668" width="1" height="72" fill="#808080"/>
<text x="9" y="686" class="b" fill="#000">Sensor</text>
<text x="9" y="702" class="b" fill="#000">MinWert</text>
<text x="9" y="718" class="b" fill="#000">MaxWert</text>
<text x="9" y="734" class="b" fill="#000">Durchschnitt</text>
<text x="95" y="686" class="b" fill="#000">Temp. A.</text>
<text x="199" y="686" class="b e" fill="#000">°C</text>
<text x="101" y="702" class="" fill="#000">02:51</text>
<text x="199" y="702" class="e" fill="#000">8.0</text>
<text x="101" y="718" class="" fill="#000">17:06</text>
<text x="199" y="718" class="e" fill="#000">22.9</text>
<text x="101" y="734" class="" fill="#000">( - 1.84 )</text>
<text x="199" y="734" class="e" fill="#000">15.46</text>
<text x="212" y="686" class="b" fill="#000">Feuchte A.</text>
<text x="316" y="686" class="b e" fill="#000">%</text>
<text x="218" y="702" class="" fill="#000">16:57</text>
<text x="316" y="702" class="e" fill="#000">61</text>
<text x="218" y="718" class="" fill="#000">02:12</text>
<text x="316" y="718" class="e" fill="#000">93</text>
<text x="316" y="734" class="e" fill="#000">79</text>
<text x="330" y="686" class="b" fill="#000">Luftdruck</text>
<text x="434" y="686" class="b e" fill="#000">hPa</text>
<text x="336" y="702" class="" fill="#000">23:57</text>
<text x="434" y="702" class="e" fill="#000">1008.0</text>
<text x="336" y="718" class="" fill="#000">06:06</text>
<text x="434" y="718" class="e" fill="#000">1013.5</text>
<text x="330" y="734" class="" fill="#000">^0.8hPa/h</text>
<text x="434" y="734" class="e" fill="#000">1011.7</text>
<text x="448" y="686" class="b" fill="#000">Regen</text>
<text x="552" y="686" class="b e" fill="#000">l/m²</text>
<text x="454" y="718" class="" fill="#000">00:00</text>
<text x="552" y="718" class="e" fill="#000">0.0</text>
<text x="448" y="734" class="" fill="#000">Gesamt:</text>
<text x="552" y="734" class="e" fill="#000">0.0</text>
<text x="566" y="686" class="b" fill="#000">Wind</text>
<text x="670" y="686" class="b e" fill="#000">km/h</text>
<text x="566" y="702" class="" fill="#000">Ø 10 min.</text>
<text x="670" y="702" class="e" fill="#000">0.2</text>
<text x="572" y="718" class="" fill="#000">16:57</text>
<text x="670" y="718" class="e" fill="#000">W 23.0</text>
<text x="670" y="734" class="e" fill="#000">8.9</text>
<text x="684" y="686" class="b" fill="#000">Windböen</text>
<text x="788" y="686" class="b e" fill="#000">km/h</text>
<text x="684" y="702" class="" fill="#000">Ø 10 min.</text>
<text x="788" y="702" class="e" fill="#000">0.8</text>
<text x="690" y="718" class="" fill="#000">16:57</text>
<text x="788" y="718" class="e" fill="#000">SW 37.0</text>
<text x="788" y="734" class="e" fill="#000">14.6</text>
<text x="802" y="686" class="b" fill="#000">Solar</text>
<text x="906" y="686" class="b e" fill="#000">W/m²</text>
<text x="802" y="702" class="" fill="#000">Elevation</text>
<text x="906" y="702" class="e" fill="#000">-14.048</text>
<text x="808" y="718" class="" fill="#000">12:12</text>
<text x="906" y="718" class="e" fill="#000">718</text>
<text x="802" y="734" class="" fill="#000">3:57 h</text>
<text x="906" y="734" class="e" fill="#000">175</text>
<text x="920" y="686" class="b" fill="#000">UV</text>
<text x="1024" y="686" class="b e" fill="#000">UV-I</text>
<text x="926" y="702" class="" fill="#000">00:00</text>
<text x="1024" y="702" class="e" fill="#000">0.0</text>
<text x="926" y="718" class="" fill="#000">14:09</text>
<text x="1024" y="718" class="e" fill="#000">5.0</text>
<text x="1024" y="734" class="e" fill="#000">2.3</text>
</svg>
</body></html>
